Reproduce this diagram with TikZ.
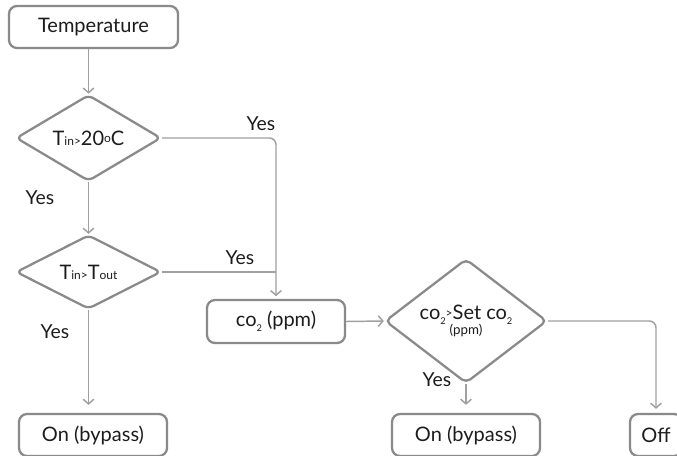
\documentclass[tikz,border=0pt]{standalone}
\usepackage{fontspec}
\setmainfont{Lato}
\usepackage{xcolor}
\definecolor{boxgrey}{RGB}{138,138,138}
\definecolor{linegrey}{RGB}{160,160,160}
\definecolor{inkblack}{RGB}{28,28,28}
\usetikzlibrary{positioning,arrows.meta,shapes.geometric}
\newcommand{\smalltag}[1]{{\fontsize{9}{10}\selectfont #1}}
\newcommand{\lowtwo}{\raisebox{-3.5pt}{{\fontsize{7}{8}\selectfont 2}}}
\tikzset{
  box/.style     ={rectangle,rounded corners=6pt,draw=boxgrey,line width=1.7pt,
                   align=center,minimum height=31.5pt,font=\fontsize{15}{17}\selectfont,text=inkblack},
  decision/.style={diamond,rounded corners=4pt,draw=boxgrey,line width=1.7pt,inner sep=0pt,
                   align=center,font=\fontsize{15}{17}\selectfont,text=inkblack},
  flow/.style    ={-{Straight Barb[length=3.5pt,width=8pt]},line width=1.1pt,draw=linegrey,rounded corners=5pt},
  joinline/.style={line width=1.1pt,draw=linegrey},
  answer/.style  ={font=\fontsize{14.5}{16}\selectfont,text=inkblack,inner sep=1pt},
}
\begin{document}
\begin{tikzpicture}[x=0.75pt,y=-0.75pt]
  \useasboundingbox (0,0) rectangle (677,456);
  \node[box,minimum width=126.75pt] (temp) at (93.5,27) {Temperature};
  \node[decision,minimum width=108.75pt,minimum height=57pt] (tset) at (88.5,138)
    {T\smalltag{in>}20\raisebox{2pt}{\smalltag{o}}C};
  \node[decision,minimum width=108.75pt,minimum height=55.5pt] (tout) at (88.5,272)
    {T\smalltag{in>}T\smalltag{out}};
  \node[box,minimum width=111pt] (bypassa) at (93,435) {On (bypass)};
  \node[box,minimum width=103.5pt,minimum height=32.25pt] (co2) at (276,321.5) {co\lowtwo{} (ppm)};
  \node[decision,minimum width=121.5pt,minimum height=63pt] (co2set) at (466,321)
    {co\lowtwo\raisebox{2pt}{\smalltag{>}}Set co\lowtwo\\[-6pt]{\fontsize{10}{11}\selectfont (ppm)}};
  \node[box,minimum width=111pt] (bypassb) at (466,435) {On (bypass)};
  \node[box,minimum width=39pt] (off) at (656,435) {Off};
  % yes labels
  \node[answer] (yesa) at (261,124) {Yes};
  \node[answer] (yesb) at (40,198) {Yes};
  \node[answer] (yesc) at (240,258) {Yes};
  \node[answer] (yesd) at (55,332) {Yes};
  \node[answer] (yese) at (437,380) {Yes};
  % connectors
  \coordinate (bend) at (co2.north |- tset.east);
  \draw[flow] (temp.south -| tset.north) -- (tset.north);
  \draw[flow] (tset.east) -- (bend) -- ([yshift=2pt]co2.north);
  \draw[flow] (tset.south) -- (tout.north);
  \draw[joinline] (tout.east) -- (tout.east -| co2.north);
  \draw[flow,shorten >=6pt] (tout.south) -- (tout.south |- bypassa.north);
  \draw[flow] (co2.east) -- (co2set.west);
  \draw[flow,shorten >=3pt] (co2set.east) -| (off.north);
  \draw[flow,shorten >=6pt] (co2set.south) -- (bypassb.north);
\end{tikzpicture}
\end{document}
